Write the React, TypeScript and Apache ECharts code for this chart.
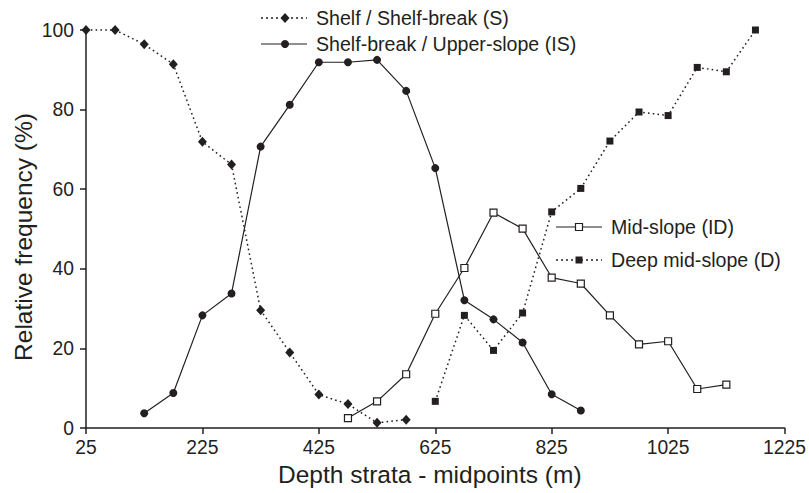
import React, { useEffect, useRef } from "react";
import * as echarts from "echarts";

const depths = [25, 75, 125, 175, 225, 275, 325, 375, 425, 475, 525, 575, 625, 675, 725, 775, 825, 875, 925, 975, 1025, 1075, 1125, 1175];
const xTickLabels = ["25", "225", "425", "625", "825", "1025", "1225"];

const shelfDepths = [25, 75, 125, 175, 225, 275, 325, 375, 425, 475, 525, 575];
const shelfValues = [100, 100, 96.4, 91.4, 71.9, 66.2, 29.6, 19.0, 8.4, 6.0, 1.3, 2.1];

const upperDepths = [125, 175, 225, 275, 325, 375, 425, 475, 525, 575, 625, 675, 725, 775, 825, 875];
const upperValues = [3.7, 8.8, 28.3, 33.8, 70.7, 81.2, 91.9, 91.9, 92.5, 84.7, 65.3, 32.1, 27.3, 21.5, 8.5, 4.4];

const midDepths = [475, 525, 575, 625, 675, 725, 775, 825, 875, 925, 975, 1025, 1075, 1125];
const midValues = [2.5, 6.7, 13.5, 28.7, 40.2, 54.1, 50.1, 37.8, 36.3, 28.3, 21.0, 21.8, 9.8, 10.9];

const deepDepths = [625, 675, 725, 775, 825, 875, 925, 975, 1025, 1075, 1125, 1175];
const deepValues = [6.7, 28.3, 19.5, 28.9, 54.3, 60.2, 72.1, 79.4, 78.5, 90.6, 89.5, 100];

const seriesNames = [
  "Shelf / Shelf-break (S)",
  "Shelf-break / Upper-slope (IS)",
  "Mid-slope (ID)",
  "Deep mid-slope (D)",
];
const yTitle = "Relative frequency (%)";
const xTitle = "Depth strata - midpoints (m)";

const X_OFFSET = depths[0];
const INK = "#231f20";
const FONT = "'Liberation Sans', Arial, Helvetica, sans-serif";

function pairs(xs: number[], ys: number[]) {
  return xs.map((x, i) => [x - X_OFFSET, ys[i]]);
}

export default function App() {
  const ref = useRef<HTMLDivElement>(null);
  useEffect(() => {
    if (!ref.current) return;
    const chart = echarts.init(ref.current, null, { renderer: "svg" });
    const dotted = [1.6, 3.2];
    const legendItem = (y: number, x0: number, dash: number[] | null, symbol: any, label: string) => [
      {
        type: "line",
        shape: { x1: x0, y1: y, x2: x0 + 46, y2: y },
        style: { stroke: INK, lineWidth: dash ? 1.5 : 1.2, lineDash: dash || undefined },
      },
      symbol,
      {
        type: "text",
        x: x0 + 55,
        y: y,
        style: { text: label, font: `19.6px ${FONT}`, fill: INK, verticalAlign: "middle", align: "left" },
      },
    ];
    const cx1 = 285;
    const cx2 = 579;
    chart.setOption({
      animation: false,
      backgroundColor: "#ffffff",
      textStyle: { fontFamily: FONT },
      grid: { left: 86, right: 23, top: 30, bottom: 65, containLabel: false },
      xAxis: {
        type: "value",
        min: 0,
        max: 1200,
        interval: 200,
        name: xTitle,
        nameLocation: "middle",
        nameGap: 29,
        nameTextStyle: {
          fontSize: 24.5,
          color: INK,
          fontFamily: FONT,
          verticalAlign: "top",
          padding: [0, 11, 0, 0],
        },
        axisLine: { show: true, onZero: false, lineStyle: { color: INK, width: 1.5 } },
        axisTick: { show: true, inside: false, length: 6, lineStyle: { color: INK, width: 1.5 } },
        axisLabel: {
          fontSize: 19.3,
          color: INK,
          fontFamily: FONT,
          margin: 10,
          formatter: (v: number) => {
            const idx = Math.round(v / 200);
            return xTickLabels[idx] ?? String(v + X_OFFSET);
          },
        },
        splitLine: { show: false },
      },
      yAxis: {
        type: "value",
        min: 0,
        max: 100,
        interval: 20,
        axisLine: { show: true, lineStyle: { color: INK, width: 1.5 } },
        axisTick: { show: true, inside: false, length: 6, lineStyle: { color: INK, width: 1.5 } },
        axisLabel: { fontSize: 19.3, color: INK, fontFamily: FONT, margin: 12 },
        splitLine: { show: false },
      },
      series: [
        {
          name: seriesNames[0],
          type: "line",
          data: pairs(shelfDepths, shelfValues),
          symbol: "diamond",
          symbolSize: [9, 10],
          lineStyle: { color: INK, width: 1.5, type: dotted },
          itemStyle: { color: INK },
          clip: false,
          z: 3,
        },
        {
          name: seriesNames[1],
          type: "line",
          data: pairs(upperDepths, upperValues),
          symbol: "circle",
          symbolSize: 8,
          lineStyle: { color: INK, width: 1.2, type: "solid" },
          itemStyle: { color: INK },
          clip: false,
          z: 4,
        },
        {
          name: seriesNames[2],
          type: "line",
          data: pairs(midDepths, midValues),
          symbol: "rect",
          symbolSize: 7,
          lineStyle: { color: INK, width: 1.2, type: "solid" },
          itemStyle: { color: "#ffffff", borderColor: INK, borderWidth: 1.2 },
          clip: false,
          z: 5,
        },
        {
          name: seriesNames[3],
          type: "line",
          data: pairs(deepDepths, deepValues),
          symbol: "rect",
          symbolSize: 7,
          lineStyle: { color: INK, width: 1.5, type: dotted },
          itemStyle: { color: INK },
          clip: false,
          z: 3,
        },
      ],
      graphic: [
        {
          type: "text",
          x: 23,
          y: 237,
          rotation: Math.PI / 2,
          style: {
            text: yTitle,
            font: `24.5px ${FONT}`,
            fill: INK,
            align: "center",
            verticalAlign: "middle",
          },
        },
        ...legendItem(18, 261, [2, 3], {
          type: "polygon",
          shape: { points: [[cx1, 13], [cx1 + 4.5, 18], [cx1, 23], [cx1 - 4.5, 18]] },
          style: { fill: INK },
        }, seriesNames[0]),
        ...legendItem(44, 261, null, {
          type: "circle",
          shape: { cx: cx1, cy: 44, r: 4 },
          style: { fill: INK },
        }, seriesNames[1]),
        ...legendItem(227, 556, null, {
          type: "rect",
          shape: { x: cx2 - 3.5, y: 227 - 3.5, width: 7, height: 7 },
          style: { fill: "#ffffff", stroke: INK, lineWidth: 1.2 },
        }, seriesNames[2]),
        ...legendItem(260, 556, [2, 3], {
          type: "rect",
          shape: { x: cx2 - 3.5, y: 260 - 3.5, width: 7, height: 7 },
          style: { fill: INK },
        }, seriesNames[3]),
      ],
    });
    return () => chart.dispose();
  }, []);
  return (
    <div
      ref={ref}
      style={{ position: "fixed", left: 0, top: 0, width: 809, height: 493, background: "#fff" }}
    />
  );
}
